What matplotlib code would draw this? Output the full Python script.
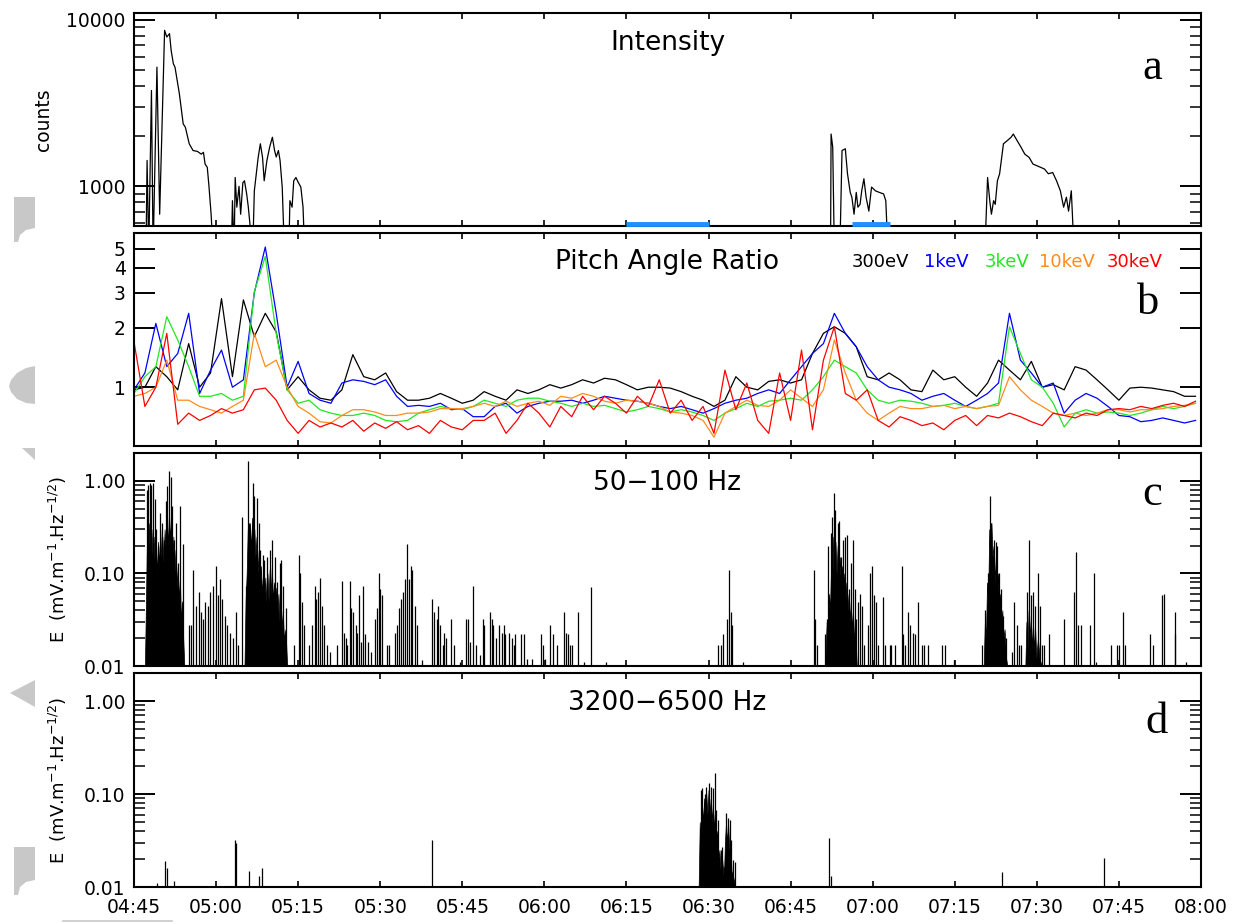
import numpy as np
import matplotlib
matplotlib.use('Agg')
import matplotlib.pyplot as plt
import matplotlib.transforms as mtransforms
from matplotlib.patches import Polygon
from matplotlib.ticker import FixedLocator, NullLocator, LogLocator, NullFormatter, FixedFormatter

# ---- time axis (minutes after 04:45) ----
tick_min = [0, 15, 30, 45, 60, 75, 90, 105, 120, 135, 150, 165, 180, 195]
tick_lab = ['04:45', '05:00', '05:15', '05:30', '05:45', '06:00', '06:15',
            '06:30', '06:45', '07:00', '07:15', '07:30', '07:45', '08:00']

# ---- panel a : intensity (counts), 400 = below the plotted range ----
int_t = [2.2, 2.4, 2.7, 3.2, 3.5, 4.2, 4.7, 5.6, 6.0, 6.5, 6.8, 7.2, 7.5, 8.3, 9.0, 9.4,
         10.1, 10.8, 11.6, 12.3, 12.7, 13.0, 13.4, 13.7, 14.1, 14.5,
         17.8, 18.0, 18.3, 18.5, 18.8, 19.2, 19.5, 19.9, 20.2, 20.6, 20.9, 21.7,
         22.0, 22.7, 23.1, 23.5, 23.8, 24.3, 24.8, 25.3, 25.7, 26.0, 26.4, 26.7, 27.1, 27.5,
         28.3, 28.5, 28.9, 29.2, 29.6, 30.0, 30.5, 30.9, 31.2,
         127.3, 127.4, 127.7, 128.0, 129.0, 129.4, 130.0, 130.4, 130.9, 131.2, 131.6,
         132.0, 132.3, 132.7, 133.0, 133.4, 133.8, 134.3, 134.8, 135.5, 136.2, 137.0,
         137.4, 137.8,
         155.5, 156.0, 156.4, 156.7, 157.1, 157.4, 157.8, 158.2, 158.9, 159.6, 160.3,
         160.7, 161.4, 162.1, 162.8, 163.6, 164.3, 165.0, 165.7, 166.4, 167.1, 167.9,
         168.6, 169.3, 169.9, 170.4, 170.8, 171.3, 171.5, 171.8]
int_v = [400, 1430, 400, 3760, 400, 5190, 680, 8630, 7870, 8240, 6540, 5440, 5190, 3590, 2370, 2260,
         1800, 1640, 1620, 1560, 1600, 1360, 1300, 1010, 680, 400,
         400, 820, 400, 1130, 750, 1000, 680, 1050, 1080, 900, 750, 400,
         940, 1490, 1800, 1490, 1080, 1430, 1720, 1970, 1640, 1500, 1640, 1430, 986, 400,
         400, 820, 750, 1080, 1130, 1060, 990, 750, 400,
         400, 2060, 1720, 400, 400, 1640, 1680, 1190, 920, 860, 680,
         920, 750, 780, 940, 1110, 860, 710, 990, 940, 920, 900,
         820, 400,
         400, 1130, 820, 680, 820, 780, 1080, 1190, 1800, 1880, 1970,
         2060, 1880, 1720, 1560, 1490, 1360, 1330, 1300, 1270, 1190, 1210,
         1080, 940, 750, 860, 710, 940, 680, 400]
bar_start = [90.0, 131.2]
bar_end = [105.0, 138.1]

# ---- panel b : pitch angle ratio, sampled every 2 min ----
pa_t = np.arange(0, 196, 2)
pa_300ev = [0.97, 1.0, 1.27, 1.13, 0.97, 1.66, 1.0, 1.18, 2.8, 1.13, 2.76, 1.8, 2.36, 1.9, 0.97, 1.13,
            0.97, 0.88, 0.86, 0.97, 1.46, 1.13, 1.09, 1.18, 0.95, 0.86, 0.86, 0.88, 0.93, 0.88, 0.83,
            0.86, 0.95,
            0.9, 0.86, 0.97, 0.93, 0.97, 1.03, 0.99, 1.03, 1.09, 1.05, 1.11, 1.09, 1.03, 0.97, 1.0,
            1.0, 0.99, 0.95, 0.9, 0.86, 0.8, 0.86, 1.13, 1.0, 0.97, 1.07, 1.09, 1.05, 1.09, 1.48,
            1.87, 2.02, 1.87,
            1.6, 1.13, 1.09, 1.18, 1.09, 0.97, 0.95, 1.22, 1.09, 1.13, 1.0, 0.9, 1.05, 1.37, 1.22,
            1.09, 1.35, 1.0, 1.03, 0.97, 1.27, 1.22, 1.09, 0.97, 0.86, 0.99, 1.0, 0.99, 0.97, 0.95,
            0.9, 0.9]
pa_1kev = [0.97, 1.18, 2.1, 1.27, 1.48, 2.36, 0.93, 1.22, 1.54, 1.0, 1.09, 3.0, 5.1, 2.36, 1.0, 1.35,
           0.93, 0.86, 0.83, 1.05, 1.09, 1.07, 1.03, 1.09, 0.9, 0.8, 0.81, 0.8, 0.83, 0.77, 0.78,
           0.71, 0.71,
           0.8, 0.83, 0.74, 0.8, 0.83, 0.85, 0.85, 0.86, 0.83, 0.86, 0.9, 0.88, 0.86, 0.85, 0.83,
           0.8, 0.78, 0.8, 0.77, 0.74, 0.78, 0.83, 0.86, 0.88, 0.93, 0.97, 0.93, 1.09, 1.27, 1.48,
           1.66, 2.36, 1.87,
           1.6, 1.27, 1.09, 1.0, 0.97, 0.93, 0.86, 0.9, 0.93, 0.86, 0.8, 0.86, 0.93, 1.05, 2.36,
           1.37, 1.18, 1.0, 1.05, 0.74, 0.86, 0.93, 0.88, 0.8, 0.72, 0.71, 0.67, 0.68, 0.7, 0.68,
           0.66, 0.68]
pa_3kev = [0.93, 1.13, 1.27, 2.27, 1.73, 1.27, 0.9, 0.9, 0.93, 0.86, 0.9, 3.04, 4.57, 1.87, 0.97, 0.83,
           0.86, 0.77, 0.74, 0.72, 0.72, 0.74, 0.72, 0.68, 0.67, 0.68, 0.74, 0.77, 0.8, 0.78, 0.77,
           0.8, 0.86,
           0.83, 0.8, 0.86, 0.88, 0.88, 0.85, 0.83, 0.8, 0.83, 0.8, 0.81, 0.78, 0.75, 0.77, 0.8,
           0.78, 0.75, 0.77, 0.75, 0.72, 0.68, 0.74, 0.78, 0.83, 0.8, 0.85, 0.86, 0.88, 0.86, 0.97,
           1.13, 1.37, 1.27,
           1.18, 0.97, 0.86, 0.83, 0.86, 0.85, 0.83, 0.8, 0.81, 0.83, 0.8, 0.78, 0.8, 0.83, 2.02,
           1.48, 1.09, 1.0, 0.83, 0.63, 0.74, 0.77, 0.74, 0.75, 0.74, 0.72, 0.74, 0.77, 0.8, 0.78,
           0.8, 0.83]
pa_10kev = [0.9, 0.93, 1.0, 1.37, 0.86, 0.86, 0.8, 0.77, 0.74, 0.8, 0.86, 1.87, 1.27, 1.37, 1.0, 0.8,
            0.74, 0.67, 0.66, 0.72, 0.77, 0.77, 0.75, 0.72, 0.72, 0.74, 0.74, 0.75, 0.78, 0.78, 0.78,
            0.8, 0.83,
            0.8, 0.85, 0.8, 0.83, 0.85, 0.81, 0.9, 0.88, 0.93, 0.9, 0.85, 0.83, 0.86, 0.85, 0.83,
            0.8, 0.75, 0.74, 0.72, 0.68, 0.56, 0.74, 0.8, 0.86, 0.81, 0.8, 0.86, 0.97, 0.88, 0.8,
            0.97, 1.73, 1.18,
            0.86, 0.74, 0.68, 0.74, 0.8, 0.78, 0.78, 0.8, 0.81, 0.78, 0.8, 0.78, 0.8, 0.81, 1.13,
            0.97, 0.86, 0.8, 0.74, 0.72, 0.74, 0.72, 0.74, 0.77, 0.77, 0.75, 0.77, 0.77, 0.78, 0.8,
            0.81, 0.83]
pa_30kev = [1.7, 0.8, 1.0, 1.87, 0.65, 0.74, 0.68, 0.72, 0.78, 0.74, 0.77, 0.97, 0.99, 0.86, 0.68, 0.585,
            0.68, 0.63, 0.66, 0.63, 0.68, 0.6, 0.66, 0.62, 0.67, 0.61, 0.64, 0.585, 0.68, 0.63, 0.61,
            0.68, 0.68,
            0.74, 0.585, 0.68, 0.83, 0.74, 0.63, 0.8, 0.71, 0.9, 0.77, 0.9, 0.83, 0.74, 0.9, 0.8,
            1.09, 0.74, 0.86, 0.68, 0.8, 0.585, 1.22, 0.77, 1.05, 0.68, 0.585, 1.18, 0.68, 1.54, 0.61,
            1.37, 2.02, 0.93,
            0.86, 0.97, 0.68, 0.63, 0.71, 0.68, 0.64, 0.66, 0.61, 0.68, 0.72, 0.64, 0.72, 0.7, 0.74,
            0.71, 0.67, 0.64, 0.74, 0.72, 0.7, 0.74, 0.72, 0.77, 0.78, 0.77, 0.8, 0.78, 0.81, 0.83,
            0.8, 0.85]
pa_names = ['300eV', '1keV', '3keV', '10keV', '30keV']
pa_colors = ['black', '#0000ff', '#22e622', '#ff8c1a', '#ff0000']

# ---- panel c : 50-100 Hz, spikes (time, amplitude) ----
c_t = [2.3, 2.6, 2.9, 3.2, 3.5, 3.8, 4.1, 4.4, 4.7, 5.1, 5.4, 5.8, 6.1, 6.4, 6.7, 7.0, 7.3, 7.7, 8.1, 8.5, 9.0,
       10.0, 10.4, 10.8, 11.3, 11.8, 12.3, 12.6, 13.0, 13.5, 13.9, 14.5, 15.0, 15.3, 15.7, 16.1, 16.6,
       17.0, 17.5, 18.1, 18.6, 19.1,
       19.7, 20.4, 20.8, 21.1, 21.7, 22.0, 22.4, 22.8, 23.1, 23.5, 23.8, 24.4, 24.9, 25.3, 25.8, 26.2,
       26.6, 26.9, 27.3, 27.7,
       29.3, 30.1, 30.3, 30.7, 31.1, 31.9, 32.5, 33.0, 33.2, 33.6, 34.0, 34.3, 34.7, 35.2, 35.8, 37.1,
       38.0, 38.3, 38.7, 39.0, 39.4, 39.7, 40.1, 40.5, 40.8, 41.2, 41.5, 41.9, 42.3, 42.8, 43.4, 44.1,
       44.4, 44.8, 45.0, 45.4, 46.2, 46.6, 47.7, 48.0, 48.4, 48.8, 49.1, 49.5, 49.9, 50.2, 50.6, 50.9,
       51.3, 51.7, 52.7, 54.5, 54.9, 55.3, 55.6, 56.0, 56.4, 56.7, 57.1, 58.0, 58.5, 59.6, 60.7, 61.1,
       61.4, 61.9, 62.5, 63.2, 63.7, 64.0, 65.0, 65.4, 65.7, 66.1, 66.8, 67.2, 67.6, 67.9, 68.5, 69.0,
       69.4, 69.7, 70.8, 71.2, 71.9, 72.8, 74.3, 74.8, 75.1, 76.1, 76.6, 77.3, 78.5, 78.9, 79.3, 79.6,
       80.0, 81.1, 82.2, 83.5, 86.3,
       106.8, 107.2, 107.7, 108.4, 108.7, 109.1, 109.3, 111.3, 124.2, 124.4, 124.9, 126.2, 126.7,
       126.9, 127.3, 127.6, 128.0, 128.2, 128.6, 128.9, 129.3, 129.6, 129.9, 130.3, 130.7, 131.0,
       131.4, 131.7, 132.0,
       132.3, 132.7, 133.0, 133.4, 134.1, 134.6, 134.9, 135.2, 135.7, 136.0, 136.8, 137.3, 138.1,
       138.4, 139.0, 140.3, 140.6, 140.9, 141.5, 141.9, 142.4, 142.7, 143.3, 144.0, 144.3, 145.1,
       147.6, 148.3, 149.9,
       154.9, 155.5, 156.0, 156.4, 156.7, 157.1, 157.5, 157.8, 158.0, 158.4, 158.9, 159.3,
       160.5, 160.8, 161.4, 161.8, 162.1, 163.2, 163.6, 163.9, 164.3, 164.7, 165.2, 165.6, 165.9,
       166.4, 167.2, 170.0, 171.8, 172.2, 172.6, 173.1, 174.7, 175.4, 175.8, 178.5, 179.6, 180.0,
       180.7, 181.2, 185.7, 186.2, 187.9, 188.2, 190.2, 190.3, 192.3]
c_v = [0.80, 0.91, 0.96, 0.91, 0.96, 0.63, 0.30, 0.20, 0.45, 0.35, 0.23, 0.60, 0.87, 1.29, 1.11, 0.53,
       0.23, 0.35, 0.13, 0.54, 0.21,
       0.028, 0.028, 0.11, 0.045, 0.063, 0.038, 0.032, 0.049, 0.045, 0.063, 0.074, 0.12, 0.058, 0.087,
       0.053, 0.035, 0.028, 0.023, 0.02, 0.038, 0.017,
       0.41, 0.074, 1.65, 0.35, 0.94, 0.68, 0.65, 0.35, 0.18, 0.16, 0.14, 0.15, 0.18, 0.23, 0.15, 0.08,
       0.13, 0.14, 0.074, 0.042,
       0.017, 0.16, 0.10, 0.049, 0.028, 0.017, 0.028, 0.074, 0.053, 0.063, 0.09, 0.045, 0.028, 0.017,
       0.014, 0.017, 0.083, 0.023, 0.02, 0.017, 0.083, 0.042, 0.038, 0.028, 0.023, 0.058, 0.018,
       0.074, 0.022, 0.018, 0.014, 0.032, 0.042, 0.10, 0.068, 0.058, 0.017, 0.017, 0.023, 0.028,
       0.042, 0.053, 0.063, 0.087, 0.21, 0.087, 0.12, 0.11, 0.045, 0.028, 0.0116, 0.053, 0.038,
       0.032, 0.045, 0.028, 0.017, 0.023, 0.02, 0.032, 0.017, 0.011, 0.032, 0.032, 0.018, 0.074,
       0.017, 0.013, 0.032, 0.028, 0.038, 0.032, 0.028, 0.02, 0.028, 0.023, 0.028, 0.022, 0.023,
       0.02, 0.017, 0.022, 0.022, 0.022, 0.012, 0.012, 0.022, 0.017, 0.012, 0.028, 0.022, 0.017,
       0.038, 0.023, 0.022, 0.017, 0.017, 0.038, 0.011, 0.071, 0.011,
       0.017, 0.017, 0.022, 0.032, 0.11, 0.038, 0.028, 0.011, 0.11, 0.032, 0.017, 0.022, 0.032,
       0.20, 0.275, 0.41, 0.74, 0.49, 0.35, 0.37, 0.15, 0.23, 0.25, 0.26, 0.068, 0.13, 0.23, 0.068,
       0.032,
       0.049, 0.06, 0.045, 0.017, 0.028, 0.10, 0.12, 0.058, 0.049, 0.017, 0.055, 0.017, 0.017,
       0.017, 0.017, 0.12, 0.022, 0.017, 0.038, 0.028, 0.023, 0.022, 0.049, 0.017, 0.017, 0.017,
       0.017, 0.017, 0.0116,
       0.017, 0.04, 0.10, 0.68, 0.35, 0.23, 0.22, 0.20, 0.10, 0.068, 0.035, 0.02,
       0.014, 0.049, 0.028, 0.017, 0.017, 0.063, 0.23, 0.058, 0.063, 0.045, 0.10, 0.045, 0.017,
       0.017, 0.022, 0.032, 0.063, 0.17, 0.028, 0.028, 0.028, 0.10, 0.011, 0.017, 0.017, 0.017,
       0.038, 0.017, 0.022, 0.017, 0.058, 0.06, 0.038, 0.022, 0.011]
# unresolved (solid) parts of the bursts
c_core_t = [[2.0, 2.2, 2.4, 2.6, 2.8, 3.0, 3.2, 3.4, 3.6, 3.8, 4.0, 4.2, 4.4, 4.6, 4.8, 5.0, 5.2,
             5.4, 5.6, 5.8, 6.0, 6.2, 6.4, 6.6, 6.8, 7.0, 7.2, 7.4, 7.6, 7.8, 8.0, 8.2, 8.4, 8.6,
             8.8, 9.0, 9.2],
            [20.2, 20.4, 20.6, 20.8, 21.0, 21.2, 21.4, 21.6, 21.8, 22.0, 22.2, 22.4, 22.6, 22.8,
             23.0, 23.2, 23.4, 23.6, 23.8, 24.0, 24.2, 24.4, 24.6, 24.8, 25.0, 25.2, 25.4, 25.6,
             25.8, 26.0, 26.2, 26.4, 26.6, 26.8, 27.0, 27.2, 27.4, 27.7, 28.0],
            [126.3, 126.6, 126.8, 127.0, 127.2, 127.4, 127.6, 127.8, 128.0, 128.2, 128.4, 128.6,
             128.8, 129.0, 129.2, 129.4, 129.6, 129.8, 130.0, 130.2, 130.4, 130.6, 130.8, 131.0,
             131.2, 131.4, 131.6, 131.8, 132.1],
            [155.3, 155.5, 155.7, 155.9, 156.1, 156.3, 156.5, 156.7, 156.9, 157.1, 157.3, 157.5,
             157.7, 157.9, 158.1, 158.3, 158.5, 158.7, 158.9, 159.1, 159.4, 159.6],
            [162.9, 163.1, 163.3, 163.5, 163.7, 163.9, 164.1, 164.3, 164.5, 164.7, 164.9, 165.2,
             165.5, 165.9]]
c_core_v = [[0.01, 0.05, 0.3, 0.15, 0.35, 0.18, 0.3, 0.15, 0.25, 0.12, 0.2, 0.1, 0.22, 0.12, 0.3,
             0.15, 0.25, 0.13, 0.3, 0.18, 0.4, 0.2, 0.45, 0.25, 0.35, 0.15, 0.25, 0.1, 0.18, 0.07,
             0.12, 0.05, 0.09, 0.03, 0.05, 0.02, 0.01],
            [0.01, 0.05, 0.1, 0.3, 0.15, 0.35, 0.18, 0.4, 0.2, 0.3, 0.15, 0.25, 0.1, 0.18, 0.08,
             0.12, 0.06, 0.1, 0.05, 0.09, 0.05, 0.1, 0.05, 0.11, 0.06, 0.12, 0.05, 0.08, 0.04,
             0.07, 0.035, 0.06, 0.03, 0.05, 0.025, 0.04, 0.02, 0.025, 0.01],
            [0.01, 0.03, 0.02, 0.06, 0.04, 0.12, 0.07, 0.25, 0.12, 0.22, 0.1, 0.2, 0.09, 0.15,
             0.07, 0.12, 0.06, 0.1, 0.05, 0.08, 0.04, 0.06, 0.03, 0.05, 0.025, 0.04, 0.02, 0.025,
             0.01],
            [0.01, 0.03, 0.02, 0.08, 0.05, 0.3, 0.12, 0.35, 0.15, 0.2, 0.08, 0.15, 0.06, 0.1,
             0.04, 0.06, 0.03, 0.04, 0.02, 0.025, 0.012, 0.01],
            [0.01, 0.03, 0.015, 0.04, 0.02, 0.035, 0.015, 0.03, 0.015, 0.025, 0.012, 0.02, 0.012,
             0.01]]

# ---- panel d : 3200-6500 Hz ----
d_t = [4.3, 5.6, 6.1, 7.4, 18.5, 18.6, 20.95, 22.9, 23.4, 54.5,
       103.6, 103.9, 104.3, 104.6, 105.1, 105.4, 105.8, 106.15, 106.4, 106.8, 107.2, 107.5, 107.8,
       108.2, 108.6, 108.9, 109.2, 109.5, 109.9, 127.1, 127.4, 158.6, 177.2]
d_v = [0.011, 0.019, 0.016, 0.0115, 0.032, 0.030, 0.015, 0.013, 0.016, 0.032,
       0.11, 0.115, 0.10, 0.12, 0.13, 0.12, 0.115, 0.167, 0.067, 0.052, 0.025, 0.027, 0.0165,
       0.062, 0.055, 0.052, 0.032, 0.0195, 0.0187, 0.034, 0.013, 0.0146, 0.0205]
d_core_t = [103.2, 103.4, 103.6, 103.8, 104.0, 104.2, 104.4, 104.6, 104.8, 105.0, 105.2, 105.4,
            105.6, 105.8, 106.0, 106.2, 106.4, 106.6, 106.8, 107.0, 107.2, 107.5, 107.8, 108.0,
            108.2, 108.4, 108.6, 108.8, 109.0, 109.2, 109.5, 109.9]
d_core_v = [0.01, 0.05, 0.03, 0.08, 0.05, 0.09, 0.05, 0.1, 0.06, 0.11, 0.06, 0.09, 0.05, 0.08,
            0.04, 0.07, 0.03, 0.04, 0.02, 0.025, 0.015, 0.02, 0.012, 0.03, 0.05, 0.03, 0.045,
            0.025, 0.03, 0.015, 0.013, 0.01]

FS = 13.5

fig = plt.figure(figsize=(12.38, 9.24), dpi=100)
L, W, H = 0.1082, 0.8619, 0.2305
ax_a = fig.add_axes([L, 0.7554, W, H])
ax_b = fig.add_axes([L, 0.5173, W, H])
ax_c = fig.add_axes([L, 0.2792, W, H])
ax_d = fig.add_axes([L, 0.0400, W, 0.2316])


def style(ax, ylim, major, labels, minor=True, bottom_labels=False):
    ax.set_xlim(0, 195)
    ax.set_yscale('log')
    ax.set_ylim(*ylim)
    ax.xaxis.set_major_locator(FixedLocator(tick_min))
    ax.xaxis.set_major_formatter(FixedFormatter(tick_lab))
    ax.xaxis.set_minor_locator(NullLocator())
    ax.yaxis.set_major_locator(FixedLocator(major))
    ax.yaxis.set_major_formatter(FixedFormatter(labels))
    if minor:
        ax.yaxis.set_minor_locator(LogLocator(base=10, subs=np.arange(2, 10)))
    else:
        ax.yaxis.set_minor_locator(NullLocator())
    ax.yaxis.set_minor_formatter(NullFormatter())
    ax.tick_params(axis='x', which='major', direction='in', top=True, bottom=True,
                   length=4, width=1.2, labelsize=FS, pad=8, labelbottom=bottom_labels)
    ax.tick_params(axis='y', which='major', direction='in', left=True, right=True,
                   length=15, width=1.4, labelsize=FS, pad=6)
    ax.tick_params(axis='y', which='minor', direction='in', left=True, right=True,
                   length=8, width=1.1)
    for s in ax.spines.values():
        s.set_linewidth(1.5)


# panel a
ax_a.plot(int_t, int_v, color='black', lw=0.9)
style(ax_a, (578, 10960), [1000, 10000], ['1000', '10000'])
bt = mtransforms.blended_transform_factory(ax_a.transData, ax_a.transAxes)
for s, e in zip(bar_start, bar_end):
    ax_a.plot([s, e], [0.01, 0.01], transform=bt, color='#1e90ff', lw=3.5,
              solid_capstyle='butt', clip_on=False, zorder=5)
ax_a.text(0.5, 0.86, 'Intensity', transform=ax_a.transAxes, ha='center', va='center', fontsize=19)
ax_a.text(0.954, 0.69, 'a', transform=ax_a.transAxes, ha='center', va='baseline',
          fontsize=32, family='Liberation Serif')

# panel b
for vals, col in zip([pa_300ev, pa_1kev, pa_3kev, pa_10kev, pa_30kev], pa_colors):
    ax_b.plot(pa_t, vals, color=col, lw=0.9)
style(ax_b, (0.505, 6.0), [1, 2, 3, 4, 5], ['1', '2', '3', '4', '5'], minor=False)
ax_b.text(0.5, 0.864, 'Pitch Angle Ratio', transform=ax_b.transAxes, ha='center', va='center',
          fontsize=19)
for name, col, xp in zip(pa_names, pa_colors, [0.673, 0.740, 0.797, 0.848, 0.912]):
    ax_b.text(xp, 0.864, name, transform=ax_b.transAxes, ha='left', va='center',
              fontsize=13, color=col)
ax_b.text(0.950, 0.62, 'b', transform=ax_b.transAxes, ha='center', va='baseline',
          fontsize=32, family='Liberation Serif')

# panel c
for ct, cv in zip(c_core_t, c_core_v):
    ax_c.fill_between(ct, 0.01, cv, color='black', lw=0.5)
ax_c.vlines(c_t, 0.01, c_v, color='black', lw=0.9)
style(ax_c, (0.01, 2.0), [0.01, 0.1, 1.0], ['0.01', '0.10', '1.00'])
ax_c.text(0.5, 0.86, '50\u2212100 Hz', transform=ax_c.transAxes, ha='center', va='center',
          fontsize=19)
ax_c.text(0.954, 0.756, 'c', transform=ax_c.transAxes, ha='center', va='baseline',
          fontsize=32, family='Liberation Serif')

# panel d
ax_d.fill_between(d_core_t, 0.01, d_core_v, color='black', lw=0.5)
ax_d.vlines(d_t, 0.01, d_v, color='black', lw=0.9)
style(ax_d, (0.01, 2.0), [0.01, 0.1, 1.0], ['0.01', '0.10', '1.00'], bottom_labels=True)
ax_d.text(0.5, 0.86, '3200\u22126500 Hz', transform=ax_d.transAxes, ha='center', va='center',
          fontsize=19)
ax_d.text(0.958, 0.72, 'd', transform=ax_d.transAxes, ha='center', va='baseline',
          fontsize=32, family='Liberation Serif')

# y labels
fig.text(0.035, 0.871, 'counts', rotation=90, ha='center', va='center', fontsize=13.5)
elab = r'E  (mV.m$^{-1}$.Hz$^{-1/2}$)'
fig.text(0.047, 0.395, elab, rotation=90, ha='center', va='center', fontsize=13)
fig.text(0.047, 0.156, elab, rotation=90, ha='center', va='center', fontsize=13)

# grey scan marks along the left page edge (pixel coordinates)
marks = [[(14, 197), (35, 197), (35, 228), (26, 230), (20, 235), (18, 242), (14, 242)],
         [(35, 366), (26, 368), (17, 373), (11, 380), (9, 386), (11, 392), (17, 399), (26, 403), (35, 404)],
         [(22, 448), (35, 448), (35, 460)],
         [(10, 693), (35, 680), (35, 707)],
         [(14, 847), (35, 847), (35, 880), (26, 882), (20, 887), (18, 895), (14, 895)]]
for pts in marks:
    p = np.array(pts, dtype=float)
    p[:, 0] = p[:, 0] / 1238.0
    p[:, 1] = 1 - p[:, 1] / 924.0
    fig.add_artist(Polygon(p, closed=True, transform=fig.transFigure, color='#c8c8c8', lw=0))
fig.add_artist(plt.Line2D([63 / 1238.0, 172 / 1238.0], [1 - 921 / 924.0, 1 - 921 / 924.0],
                          transform=fig.transFigure, color='#c8c8c8', lw=1.2))

fig.savefig('out.png', dpi=100)
